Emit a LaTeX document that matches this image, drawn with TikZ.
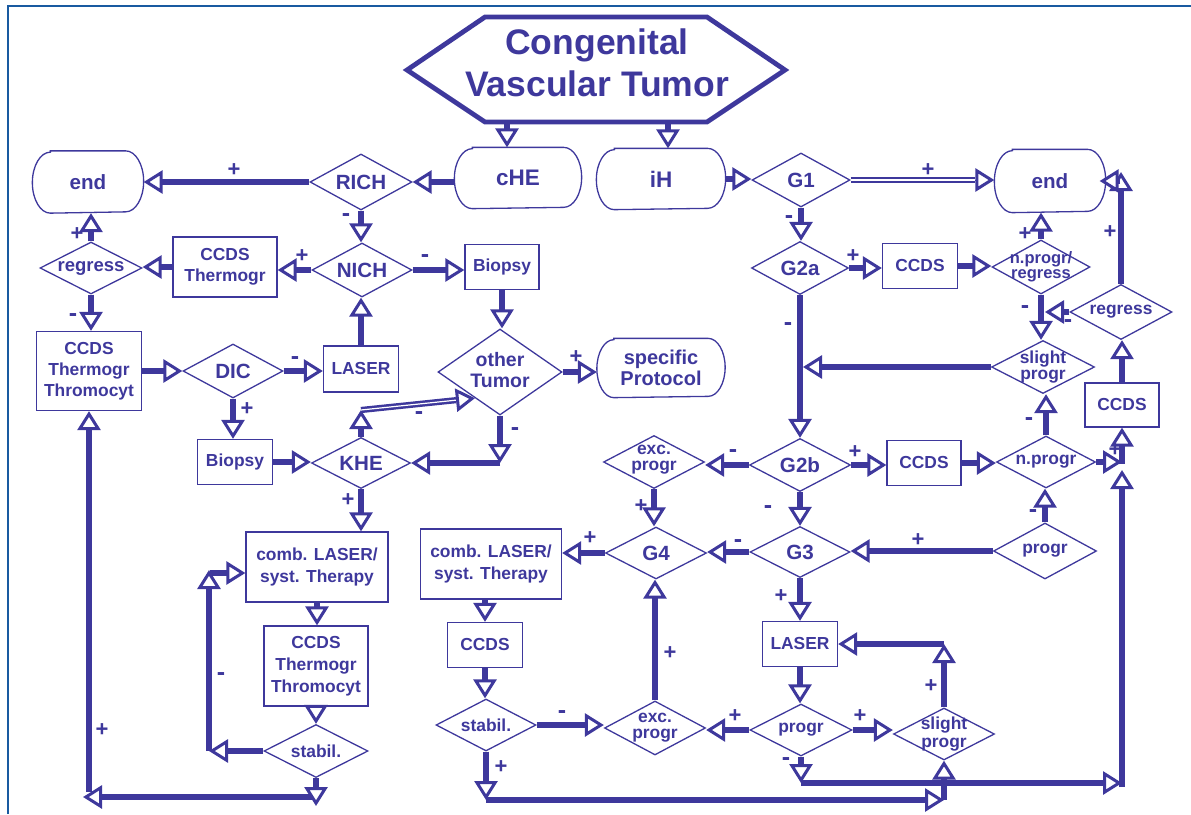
\documentclass[tikz,border=0pt]{standalone}
\usepackage{fontspec}
\setmainfont{Liberation Sans}
\usetikzlibrary{shapes.geometric,arrows.meta,calc}
\definecolor{tc}{RGB}{62,56,156}
\definecolor{fc}{RGB}{25,90,160}
\newcommand{\fs}[2]{\fontsize{#1}{#2}\selectfont\bfseries}
\newcommand{\stad}[3]{\draw[draw=tc, line width=1.3pt] ([xshift=#2pt]#1.north west) -- ([xshift=-#2pt]#1.north east) arc[start angle=90, end angle=-90, x radius=#2pt, y radius=#3pt] -- ([xshift=#2pt]#1.south west) arc[start angle=270, end angle=90, x radius=#2pt, y radius=#3pt] -- cycle;}
\begin{document}
\begin{tikzpicture}[x=1pt,y=-1pt,
 box/.style={draw=tc, line width=1.3pt, rectangle, inner sep=0pt, align=center, text=tc, font=\fs{17.4}{21}},
 rbox/.style={box, draw=none},
 dia/.style={draw=tc, line width=1.3pt, diamond, inner sep=0pt},
 dt/.style={text=tc, align=center, inner sep=0pt, font=\fs{17.4}{16}},
 big/.style={font=\fs{20.6}{21}},
 otip/.style={-{Triangle[open, fill=white, length=19pt, width=23pt, line width=3pt]}},
 arr/.style={draw=tc, line width=6.5pt, otip},
 dbl/.style={draw=tc, line width=2.5pt, double=white, double distance=1.2pt},
 tiponly/.style={draw=tc, line width=0.5pt, otip},
 pl/.style={text=tc, inner sep=0pt, font=\fs{22}{22}},
 mi/.style={text=tc, inner sep=0pt, font=\fs{25}{25}},
]
\useasboundingbox (0,0) rectangle (1191,814);
\draw[fc, line width=2pt] (8,814) -- (8,5.5) -- (1191,5.5);

% title
\draw[draw=tc, line width=4.8pt, line join=miter] (407,70) -- (485,17) -- (707,17) -- (785,70) -- (707,122) -- (485,122) -- cycle;
\node[text=tc, align=center, inner sep=0pt, font=\fs{35.5}{42}] (title) at (597,63) {Congenital\\Vascular Tumor};
\coordinate (h1) at (507,122);
\coordinate (h2) at (668,122);

% left nodes
\node[rbox, minimum width=110pt, minimum height=61pt, font=\fs{20.6}{21}] (endl) at (88,182) {end};
\stad{endl}{18}{30.5}
\node[dia, minimum width=102pt, minimum height=56pt] (rich) at (361,182) {};
\node[dt, big] (richt) at (rich) {RICH};
\node[rbox, minimum width=126pt, minimum height=60pt, font=\fs{22.5}{22}] (che) at (518,178) {cHE};
\stad{che}{18}{30}
\node[rbox, minimum width=128pt, minimum height=60pt, font=\fs{22.5}{22}] (ih) at (661,179) {iH};
\stad{ih}{18}{30}
\node[dia, minimum width=100pt, minimum height=54pt] (nich) at (362,270) {};
\node[dt, big] (nicht) at (nich) {NICH};
\node[dia, minimum width=102pt, minimum height=52pt] (regl) at (91,268) {};
\node[dt, font=\fs{18.5}{18}] (reglt) at (regl) {regress};
\node[box, minimum width=104pt, minimum height=60pt] (cct) at (225,267) {CCDS\\Thermogr};
\node[box, minimum width=105pt, minimum height=79pt] (ctt) at (89,371) {CCDS\\Thermogr\\Thromocyt};
\node[dia, minimum width=100pt, minimum height=54pt] (dic) at (233,371) {};
\node[dt, big] (dict) at (dic) {DIC};
\node[box, minimum width=75pt, minimum height=46pt] (lasl) at (361,369) {LASER};
\node[box, minimum width=74pt, minimum height=45pt] (biot) at (502,267) {Biopsy};
\node[dia, minimum width=124pt, minimum height=86pt] (ot) at (500,372) {};
\node[dt, font=\fs{19.5}{21}] (ott) at (500,370) {other\\Tumor};
\node[rbox, minimum width=127pt, minimum height=58pt, font=\fs{20}{21}] (sp) at (661,368) {specific\\Protocol};
\stad{sp}{17}{29}
\node[box, minimum width=75pt, minimum height=45pt] (biob) at (235,462) {Biopsy};
\node[dia, minimum width=99pt, minimum height=51pt] (khe) at (361,463) {};
\node[dt, big] (khet) at (khe) {KHE};
\node[box, minimum width=142pt, minimum height=70pt, font=\fs{17.4}{22}] (combl) at (317,567) {comb. LASER/\\syst. Therapy};
\node[box, minimum width=104pt, minimum height=80pt, font=\fs{17.4}{22}] (ctt2) at (316,666) {CCDS\\Thermogr\\Thromocyt};
\node[dia, minimum width=104pt, minimum height=53pt] (stl) at (316,751) {};
\node[dt] (stlt) at (stl) {stabil.};
\node[box, minimum width=141pt, minimum height=70pt, font=\fs{17.4}{22}] (combr) at (491,564) {comb. LASER/\\syst. Therapy};
\node[box, minimum width=75pt, minimum height=45pt] (ccl) at (485,645) {CCDS};
\node[dia, minimum width=100pt, minimum height=52pt] (str) at (486,725) {};
\node[dt] (strt) at (str) {stabil.};

% right nodes
\node[dia, minimum width=98pt, minimum height=54pt] (g1) at (801,180) {};
\node[dt, big] (g1t) at (g1) {G1};
\node[rbox, minimum width=110pt, minimum height=62pt, font=\fs{20.6}{21}] (endr) at (1050,181) {end};
\stad{endr}{18}{31}
\node[dia, minimum width=97pt, minimum height=53pt] (g2a) at (800,268) {};
\node[dt, big] (g2at) at (g2a) {G2a};
\node[box, minimum width=75pt, minimum height=45pt] (cc1) at (920,266) {CCDS};
\node[dia, minimum width=98pt, minimum height=54pt] (npr) at (1041,267) {};
\node[dt, font=\fs{16.5}{14.5}] (nprt) at (npr) {n.progr/\\regress};
\node[dia, minimum width=102pt, minimum height=55pt] (rgr) at (1121,312) {};
\node[dt] (rgrt) at (rgr) {regress};
\node[dia, minimum width=103pt, minimum height=53pt] (slu) at (1043,367) {};
\node[dt] (slut) at (slu) {slight\\progr};
\node[box, minimum width=74pt, minimum height=44pt] (ccr) at (1122,405) {CCDS};
\node[dia, minimum width=101pt, minimum height=53pt] (exu) at (654,462) {};
\node[dt] (exut) at (654,460) {exc.\\progr};
\node[dia, minimum width=101pt, minimum height=53pt] (g2b) at (800,465) {};
\node[dt, big] (g2bt) at (g2b) {G2b};
\node[box, minimum width=74pt, minimum height=45pt] (cc2) at (924,463) {CCDS};
\node[dia, minimum width=99pt, minimum height=52pt] (np) at (1046,462) {};
\node[dt] (npt) at (np) {n.progr};
\node[dia, minimum width=101pt, minimum height=52pt] (g4) at (656,553) {};
\node[dt, big] (g4t) at (g4) {G4};
\node[dia, minimum width=100pt, minimum height=51pt] (g3) at (800,552) {};
\node[dt, big] (g3t) at (g3) {G3};
\node[dia, minimum width=103pt, minimum height=56pt] (pr) at (1045,551) {};
\node[dt] (prt) at (pr) {progr};
\node[box, minimum width=75pt, minimum height=45pt] (lasr) at (800,644) {LASER};
\node[dia, minimum width=101pt, minimum height=54pt] (exl) at (655,728) {};
\node[dt] (exlt) at (exl) {exc.\\progr};
\node[dia, minimum width=102pt, minimum height=52pt] (prl) at (801,730) {};
\node[dt] (prlt) at (prl) {progr};
\node[dia, minimum width=101pt, minimum height=52pt] (sll) at (944,734) {};
\node[dt, font=\fs{17.4}{18}] (sllt) at (sll) {slight\\progr};

% ---- connectors left
\draw[arr] (h1) -- (h1 |- che.north);
\draw[arr] (h2) -- (h2 |- ih.north);
\draw[arr] (che.west |- rich.east) -- (rich.east);
\draw[arr] (rich.west) -- (rich.west -| endl.east);
\draw[arr] (rich.south) -- (rich.south |- nich.north);
\draw[arr] (nich.west) -- (nich.west -| cct.east);
\draw[arr] (cct.west) -- (cct.west -| regl.east);
\draw[arr] (regl.north) -- (regl.north |- endl.south);
\draw[arr] (regl.south) -- (regl.south |- ctt.north);
\draw[arr] (ctt.east |- dic.west) -- (dic.west);
\draw[arr] (dic.east) -- (dic.east -| lasl.west);
\draw[arr] (lasl.north) -- (lasl.north |- nich.south);
\draw[arr] (nich.east) -- (nich.east -| biot.west);
\draw[arr] (biot.south) -- (biot.south |- ot.north);
\draw[arr] (ot.east) -- (ot.east -| sp.west);
\draw[arr] (dic.south) -- (dic.south |- biob.north);
\draw[arr] (biob.east) -- (biob.east -| khe.west);
\coordinate (otk) at (ot.south |- khe.east);
\draw[arr] (ot.south) -- (otk);
\draw[arr] (otk) -- (khe.east);
\coordinate (kt) at (361,410);
\draw[arr] (khe.north) -- (kt);
\coordinate (otp) at ($(ot.south west)!0.2!(ot.south)$);
\coordinate (otb) at ($(otp)!19pt!(kt)$);
\draw[dbl] (kt) -- (otb);
\draw[tiponly] (otb) -- (otp);
\draw[arr] (khe.south) -- (khe.south |- combl.north);
\draw[arr] (combl.south) -- (combl.south |- ctt2.north);
\draw[arr] (ctt2.south) -- (ctt2.south |- stl.north);
% left loop
\coordinate (la) at (209,751);
\coordinate (lb) at (209,570);
\coordinate (lc) at (210,573);
\draw[arr] (la) -- (lb);
\draw[arr] (stl.west) -- (la);
\draw[arr] (lc) -- (lc -| combl.west);
% bottom left
\coordinate (bl1) at (316,797);
\coordinate (bl2) at (83,797);
\coordinate (bl3) at (316,806);
\coordinate (bl4) at (89,792);
\draw[arr] (bl4) -- (ctt.south);
\draw[arr] (bl1) -- (bl2);
\draw[arr] (stl.south) -- (bl3);

% ---- connectors right
\draw[arr] (ih.east) -- (ih.east -| g1.west);
\coordinate (g1e) at (g1.east -| endr.west);
\coordinate (g1b) at ($(g1e)+(-19,0)$);
\draw[dbl] (g1.east) -- (g1b);
\draw[tiponly] (g1b) -- (g1e);
\draw[arr] (g1.south) -- (g1.south |- g2a.north);
\draw[arr] (g2a.east) -- (g2a.east -| cc1.west);
\draw[arr] (cc1.east) -- (cc1.east -| npr.west);
\draw[arr] (npr.north) -- (npr.north |- endr.south);
\draw[arr] (npr.south) -- (npr.south |- slu.north);
\coordinate (rgw) at ($(rgr.west -| npr.south)+(4,0)$);
\draw[arr] (rgr.west) -- (rgw);
\coordinate (rt) at (1121,172);
\draw[arr] (rgr.north) -- (rt);
\coordinate (rte) at (1120,181);
\coordinate (ene) at ($(endr.east)+(-6,0)$);
\draw[arr] (rte) -- (ene);
\draw[arr] (ccr.north) -- (ccr.north |- rgr.south);
\draw[arr] (g2a.south) -- (g2a.south |- g2b.north);
\coordinate (slw) at ($(slu.west -| g2a.south)+(3,0)$);
\draw[arr] (slu.west) -- (slw);
\draw[arr] (g2b.west) -- (g2b.west -| exu.east);
\draw[arr] (g2b.east) -- (g2b.east -| cc2.west);
\draw[arr] (cc2.east) -- (cc2.east -| np.west);
\draw[arr] (np.north) -- (np.north |- slu.south);
\draw[arr] (pr.north) -- (pr.north |- np.south);
\draw[arr] (pr.west) -- (pr.west -| g3.east);
\draw[arr] (g2b.south) -- (g2b.south |- g3.north);
\draw[arr] (exu.south) -- (exu.south |- g4.north);
\draw[arr] (g3.west) -- (g3.west -| g4.east);
\draw[arr] (g4.west) -- (g4.west -| combr.east);
\draw[arr] (g3.south) -- (g3.south |- lasr.north);
\draw[arr] (lasr.south) -- (lasr.south |- prl.north);
\draw[arr] (prl.west) -- (prl.west -| exl.east);
\draw[arr] (prl.east) -- (prl.east -| sll.west);
\coordinate (sl) at (sll.north |- lasr.east);
\draw[arr] (sll.north) -- (sl);
\draw[arr] (sl) -- (lasr.east);
\draw[arr] (exl.north) -- (exl.north |- g4.south);
\draw[arr] (combr.south -| ccl.north) -- (ccl.north);
\draw[arr] (ccl.south) -- (ccl.south |- str.north);
\draw[arr] (str.east) -- (str.east -| exl.west);
% right vertical trunk
\coordinate (vb) at (1122,787);
\coordinate (vt) at (1122,470);
\coordinate (vm) at (1122,464);
\coordinate (pb) at (801,783);
\coordinate (pbe) at (1122,783);
\draw[arr] (np.east) -- (np.east -| vm);
\draw[arr] (vm) -- (ccr.south);
\draw[arr] (pb) -- (pbe);
\draw[arr] (vb) -- (vt);
\draw[arr] (prl.south) -- (pb);
% bottom right
\coordinate (sb) at (486,800);
\coordinate (sc) at (944,800);
\draw[arr] (sb) -- (sc);
\draw[arr] (str.south) -- (sb);
\draw[arr] (sc) -- (sll.south);

% ---- +/- labels
\node[pl] (l1) at (234,170) {+};
\node[mi] (l2) at (346,218) {-};
\node[pl] (l3) at (302,256) {+};
\node[pl] (l4) at (77,234) {+};
\node[mi] (l5) at (73,318) {-};
\node[mi] (l6) at (295,361) {-};
\node[mi] (l7) at (425,259) {-};
\node[pl] (l8) at (576,357) {+};
\node[pl] (l9) at (247,409) {+};
\node[mi] (l10) at (419,416) {-};
\node[mi] (l11) at (515,432) {-};
\node[pl] (l12) at (348,500) {+};
\node[mi] (l13) at (221,677) {-};
\node[pl] (l14) at (102,730) {+};
\node[pl] (l15) at (928,170) {+};
\node[mi] (l16) at (789,220) {-};
\node[pl] (l17) at (853,256) {+};
\node[pl] (l18) at (1025,234) {+};
\node[mi] (l19) at (1025,310) {-};
\node[mi] (l20) at (1068,324) {-};
\node[pl] (l21) at (1110,232) {+};
\node[mi] (l22) at (788,327) {-};
\node[mi] (l23) at (733,454) {-};
\node[pl] (l24) at (855,452) {+};
\node[mi] (l25) at (1029,422) {-};
\node[pl] (l26) at (1115,450) {+};
\node[pl] (l27) at (641,506) {+};
\node[mi] (l28) at (768,510) {-};
\node[mi] (l29) at (1033,514) {-};
\node[pl] (l30) at (918,540) {+};
\node[mi] (l31) at (738,544) {-};
\node[pl] (l32) at (590,538) {+};
\node[pl] (l33) at (781,596) {+};
\node[pl] (l34) at (670,653) {+};
\node[pl] (l35) at (931,686) {+};
\node[pl] (l36) at (735,716) {+};
\node[pl] (l37) at (860,716) {+};
\node[mi] (l38) at (786,762) {-};
\node[mi] (l39) at (562,715) {-};
\node[pl] (l40) at (501,767) {+};
\end{tikzpicture}
\end{document}
